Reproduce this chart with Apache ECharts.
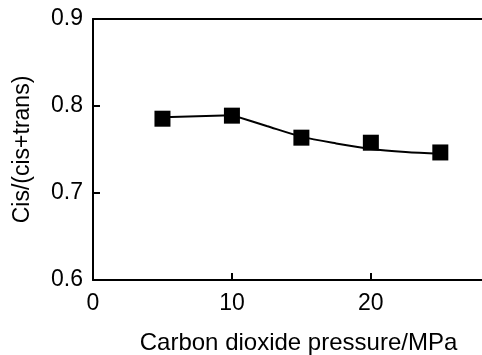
<!DOCTYPE html>
<html>
<head>
<meta charset="utf-8">
<script src="https://cdn.jsdelivr.net/npm/echarts@6/dist/echarts.min.js"></script>
<style>html,body{margin:0;padding:0;background:#fff}#c{width:482px;height:355px}</style>
</head>
<body>
<div id="c"></div>
<script>
var pressure = [5, 10, 15, 20, 25];
var ratio = [0.7854, 0.7889, 0.7636, 0.7578, 0.7466];
var straightX = [5, 10];
var straightY = [0.787, 0.7895];
var curveX = [10, 12.5, 15, 17.5, 20, 22.5, 25];
var curveY = [0.7895, 0.777, 0.7648, 0.757, 0.7507, 0.7472, 0.7452];
var xTicks = [0, 10, 20];
var yTicks = [0.6, 0.7, 0.8, 0.9];

var font = '"Liberation Sans", Arial, Helvetica, sans-serif';
var chart = echarts.init(document.getElementById('c'), null, {renderer: 'canvas'});
chart.setOption({
  animation: false,
  grid: {left: 93, right: 0, top: 19, bottom: 75, containLabel: false, outerBoundsMode: 'none'},
  xAxis: [{
    type: 'value', min: 0, max: 28, interval: 10,
    name: 'Carbon dioxide pressure/MPa', nameLocation: 'middle', nameGap: 51, nameMoveOverlap: false,
    nameTextStyle: {fontSize: 24, color: '#000', fontFamily: font, padding: [0, 0, 0, 22]},
    axisLine: {show: true, lineStyle: {color: '#000', width: 2}},
    axisTick: {show: true, inside: true, length: 7, lineStyle: {color: '#000', width: 2}},
    axisLabel: {fontSize: 23, color: '#000', fontFamily: font, margin: 12, showMaxLabel: false,
      formatter: function (v) { return xTicks.indexOf(v) >= 0 ? String(v) : ''; }},
    splitLine: {show: false}
  }, {
    type: 'value', position: 'top', min: 0, max: 28,
    axisLine: {show: true, lineStyle: {color: '#000', width: 2}},
    axisTick: {show: false}, axisLabel: {show: false}, splitLine: {show: false}
  }],
  yAxis: {
    type: 'value', min: 0.6, max: 0.9, interval: 0.1,
    name: 'Cis/(cis+trans)', nameLocation: 'middle', nameGap: 59, nameMoveOverlap: false,
    nameTextStyle: {fontSize: 23, color: '#000', fontFamily: font},
    axisLine: {show: true, lineStyle: {color: '#000', width: 2}},
    axisTick: {show: true, inside: true, length: 7, lineStyle: {color: '#000', width: 2}},
    axisLabel: {fontSize: 23, color: '#000', fontFamily: font, margin: 10,
      formatter: function (v) { return v.toFixed(1); }},
    splitLine: {show: false}
  },
  series: [{
    type: 'line', showSymbol: false,
    data: straightX.map(function (x, i) { return [x, straightY[i]]; }),
    lineStyle: {color: '#000', width: 2}, z: 2
  }, {
    type: 'line', smooth: 0.3, showSymbol: false,
    data: curveX.map(function (x, i) { return [x, curveY[i]]; }),
    lineStyle: {color: '#000', width: 2}, z: 2
  }, {
    type: 'scatter', symbol: 'rect', symbolSize: 16,
    data: pressure.map(function (x, i) { return [x, ratio[i]]; }),
    itemStyle: {color: '#000', opacity: 1}, z: 3
  }]
});
</script>
</body>
</html>
